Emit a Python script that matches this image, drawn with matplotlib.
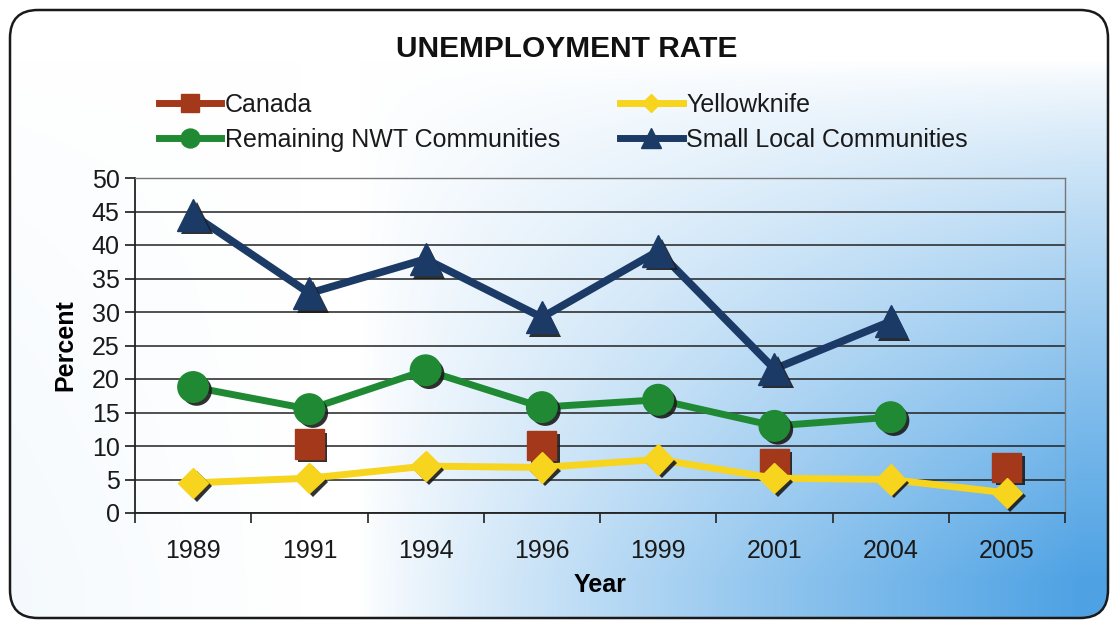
import numpy as np
import matplotlib
matplotlib.use("Agg")
import matplotlib.pyplot as plt
from matplotlib.patches import FancyBboxPatch
import matplotlib.patheffects as pe

plt.rcParams['font.family'] = ['Liberation Sans', 'DejaVu Sans']

years = ["1989", "1991", "1994", "1996", "1999", "2001", "2004", "2005"]
canada = [np.nan, 10.3, np.nan, 10.1, np.nan, 7.4, np.nan, 6.8]
yellowknife = [4.5, 5.2, 7.0, 6.8, 8.0, 5.2, 5.0, 3.0]
remaining_nwt = [18.8, 15.5, 21.3, 15.8, 16.9, 13.0, 14.3, np.nan]
small_local = [44.5, 32.8, 37.9, 29.2, 39.1, 21.5, 28.6, np.nan]

W, H = 1117, 624
fig = plt.figure(figsize=(W / 100, H / 100), dpi=100)

# Background gradient inside a rounded frame
bg = fig.add_axes([0, 0, 1, 1], zorder=-10)
bg.set_xlim(0, W)
bg.set_ylim(H, 0)
bg.axis("off")
xx, yy = np.meshgrid(np.arange(W), np.arange(H))
tx = np.clip((xx - 360) / 720.0, 0, 1) ** 0.85
ty = np.clip((yy - 60) / 520.0, 0, 1) ** 0.8
t = tx * ty + 0.06 * np.clip((300 - xx) / 300.0, 0, 1) * ty
t = np.clip(t, 0, 1)[..., None]
white = np.array([1.0, 1.0, 1.0])
blue = np.array([78, 162, 228]) / 255.0
img = white * (1 - t) + blue * t
frame = FancyBboxPatch((10, 10), 1098, 608, boxstyle="round,pad=0,rounding_size=28",
                       facecolor="none", edgecolor="#1a1a1a", linewidth=1.8,
                       transform=bg.transData, zorder=5)
im = bg.imshow(img, extent=(0, W, H, 0), aspect="auto", interpolation="bilinear")
bg.add_patch(frame)
im.set_clip_path(frame)

ax = fig.add_axes([135 / W, 1 - 513 / H, (1065 - 135) / W, (513 - 178) / H])
ax.set_facecolor("none")

x = np.arange(len(years))
shadow = [pe.SimplePatchShadow(offset=(2.5, -2.5), shadow_rgbFace="#1a1a1a", alpha=0.9), pe.Normal()]

series = [
    ("Canada", canada, "#a3391a", "s", 21, 0),
    ("Yellowknife", yellowknife, "#f7d41e", "D", 15.5, 5),
    ("Remaining NWT Communities", remaining_nwt, "#1f8a33", "o", 22, 5),
    ("Small Local Communities", small_local, "#1b3a66", "^", 23, 5.5),
]
handles = {}
for i, (name, vals, col, mk, ms, lw) in enumerate(series):
    vals = np.array(vals, dtype=float)
    if lw > 0:
        ax.plot(x, vals, color=col, lw=lw, solid_capstyle="round", zorder=3 + i)
    ax.plot(x, vals, linestyle="none", marker=mk, markersize=ms, color=col,
            markeredgecolor=col, zorder=3.5 + i, path_effects=shadow)
    handles[name] = plt.Line2D([], [], color=col, lw=5, marker=mk,
                               markersize=ms * 0.62, markeredgecolor=col)

ax.set_xlim(-0.5, len(years) - 0.5)
ax.set_ylim(0, 50)
ax.set_yticks(np.arange(0, 51, 5))
ax.set_xticks(np.arange(-0.5, len(years), 1.0))
ax.set_xticklabels([])
ax.set_xticks(x, minor=True)
ax.set_xticklabels(years, minor=True)
ax.tick_params(axis="x", which="major", direction="out", length=7, width=1.2, color="#222222")
ax.tick_params(axis="x", which="minor", length=0, pad=19, labelsize=18, colors="#1a1a1a")
ax.tick_params(axis="y", direction="out", length=7, width=1.2, labelsize=18,
               colors="#1a1a1a", pad=4)
ax.yaxis.grid(True, color="#222222", linewidth=1.1)
ax.set_axisbelow(True)
for side in ("top", "right"):
    ax.spines[side].set_color("#777777")
    ax.spines[side].set_linewidth(1.0)
for side in ("left", "bottom"):
    ax.spines[side].set_color("#222222")
    ax.spines[side].set_linewidth(1.3)

ax.set_ylabel("Percent", fontsize=18, fontweight="bold", labelpad=10)
ax.set_xlabel("Year", fontsize=18, fontweight="bold", labelpad=7)

fig.text(567 / W, 1 - 49 / H, "UNEMPLOYMENT RATE", ha="center", va="center",
         fontsize=21.5, fontweight="bold", color="#111111")

order = ["Canada", "Remaining NWT Communities", "Yellowknife", "Small Local Communities"]
fig.legend([handles[n] for n in order], order, ncol=2, frameon=False,
           loc="upper left", bbox_to_anchor=(136 / W, 1 - 70 / H),
           fontsize=18, handlelength=2.5, handletextpad=0.15,
           columnspacing=2.4, labelspacing=0.45, labelcolor="#1a1a1a")

fig.savefig("out.png", dpi=100)
